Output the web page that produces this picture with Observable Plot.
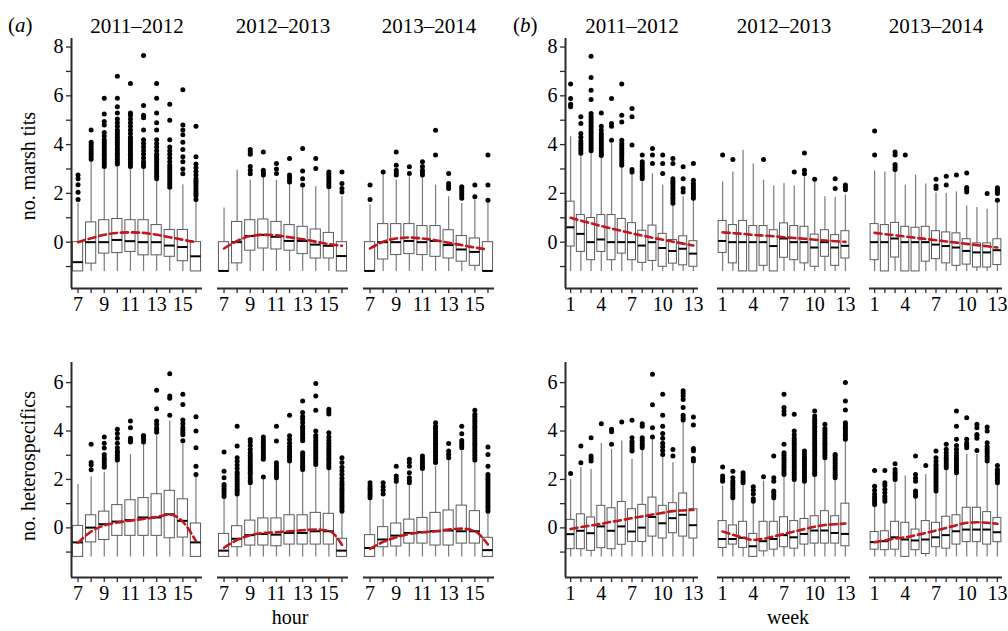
<!DOCTYPE html>
<html><head><meta charset="utf-8">
<script src="https://cdn.jsdelivr.net/npm/d3@7"></script>
<script src="https://cdn.jsdelivr.net/npm/@observablehq/plot@0.6"></script>
<style>
body{margin:0;background:#fff;}
#chart{position:relative;width:1008px;height:631px;font-family:"Liberation Serif","Times New Roman",serif;color:#000;overflow:hidden;}
.grp{position:absolute;}
.lab{position:absolute;font-size:20px;line-height:1;white-space:nowrap;}
.ylab{transform:translate(-50%,-50%) rotate(-90deg);}
.xlab{transform:translateX(-50%);}
.tag{font-size:21px;}
</style></head><body><div id="chart"></div>
<script>
// ---------- categories & ticks ----------
const SEASONS = ["2011–2012", "2012–2013", "2013–2014"];
const HOURS = [7, 8, 9, 10, 11, 12, 13, 14, 15, 16];
const WEEKS = [1, 2, 3, 4, 5, 6, 7, 8, 9, 10, 11, 12, 13];
const HOUR_LABELS = [7, 9, 11, 13, 15];
const WEEK_LABELS = [1, 4, 7, 10, 13];
const MT_TICKS = [-1, 0, 1, 2, 3, 4, 5, 6, 7, 8];
const MT_LABELS = [0, 2, 4, 6, 8];
const HT_TICKS = [-1, 0, 1, 2, 3, 4, 5, 6];
const HT_LABELS = [0, 2, 4, 6];

// ---------- box stats: [lower whisker, q1, median, q3, upper whisker] ----------
// no. marsh tits by hour
const mtHour1112Box = [[-1.2,-1.2,-0.82,0,1.6],[-1.2,-0.88,0,0.81,3.35],[-1.2,-0.47,0,0.9,3.0],[-1.2,-0.45,0.09,0.95,3.1],[-1.2,-0.4,0.04,0.9,3.0],[-1.2,-0.54,0,0.9,3.05],[-1.2,-0.54,0,0.7,2.5],[-1.2,-0.6,-0.14,0.5,2.15],[-1.2,-0.78,-0.2,0.5,2.35],[-1.2,-1.2,-0.58,0,1.7]];
const mtHour1112Out = [[1.75,2.05,2.35,2.6,2.75],[3.4,3.5,3.6,3.7,3.8,3.9,4.0,4.1,4.6],[3.1,3.2,3.3,3.4,3.5,3.6,3.7,3.8,3.9,4.0,4.1,4.2,4.35,4.5,4.8,4.95,5.25,5.9],[3.2,3.3,3.4,3.5,3.6,3.7,3.8,3.9,4.0,4.1,4.2,4.3,4.4,4.5,4.6,4.75,4.9,5.05,5.3,5.55,5.9,6.8],[3.1,3.2,3.3,3.4,3.5,3.6,3.7,3.8,3.9,4.0,4.1,4.2,4.3,4.45,4.6,4.75,4.9,5.05,5.2,5.3,6.5],[3.1,3.2,3.3,3.45,3.6,3.75,3.9,4.05,4.2,4.6,5.1,5.2,5.6,7.65],[2.6,2.7,2.8,2.9,3.0,3.1,3.2,3.3,3.4,3.5,3.6,3.75,3.9,4.05,4.2,4.6,4.9,5.3,5.9,6.5],[2.25,2.35,2.45,2.55,2.65,2.75,2.85,2.95,3.05,3.15,3.3,3.45,3.6,3.75,3.9,4.2,5.0,5.65],[2.8,3.0,3.3,3.5,3.8,4.1,4.4,4.6,4.8,6.25],[1.75,1.9,2.0,2.1,2.2,2.3,2.4,2.5,2.6,2.75,2.9,3.05,3.2,3.5,4.75]];
const mtHour1112Fit = [0.0,0.16,0.3,0.38,0.4,0.38,0.3,0.2,0.1,0.0];

const mtHour1213Box = [[-1.2,-1.2,-1.18,0,1.4],[-1.2,-0.87,0,0.83,2.95],[-1.2,-0.35,0.25,0.9,2.55],[-1.2,-0.26,0.3,0.93,2.68],[-1.2,-0.3,0.22,0.83,2.54],[-1.2,-0.35,0.05,0.7,2.4],[-1.2,-0.49,0.05,0.63,2.27],[-1.2,-0.67,-0.1,0.52,2.27],[-1.2,-0.67,-0.15,0.38,2.2],[-1.2,-1.2,-0.57,0,1.86]];
const mtHour1213Out = [[],[],[2.8,2.95,3.1,3.6,3.7,3.8],[2.75,2.85,2.95,3.7],[2.81,3.0,3.22],[2.47,2.55,2.65,2.75,3.43],[2.34,2.6,2.92,3.84],[3.02,3.43],[2.27,2.37,2.47,2.57,2.67,2.78,2.88],[2.06,2.2,2.4,2.88]];
const mtHour1213Fit = [-0.26,0.05,0.25,0.3,0.28,0.2,0.12,0.02,-0.08,-0.15];

const mtHour1314Box = [[-1.2,-1.2,-1.18,0,1.52],[-1.2,-0.71,0,0.74,2.8],[-1.2,-0.53,0,0.74,2.55],[-1.2,-0.49,0.05,0.74,2.68],[-1.2,-0.53,0,0.66,2.68],[-1.2,-0.6,0.05,0.66,2.34],[-1.2,-0.67,-0.12,0.49,1.86],[-1.2,-0.8,-0.3,0.25,1.6],[-1.2,-0.97,-0.4,0.15,1.72],[-1.2,-1.2,-1.18,0,1.58]];
const mtHour1314Out = [[1.75,2.34],[2.88],[2.75,2.85,2.95,3.15,3.7],[2.81,3.09],[2.75,2.85,2.95,3.1,3.3],[3.57,4.59],[2.2,2.3,2.4,2.81],[1.8,1.9,2.0,2.1,2.2,2.27],[1.86,2.34],[1.72,2.34,3.57]];
const mtHour1314Fit = [-0.26,0.02,0.15,0.19,0.15,0.08,-0.03,-0.12,-0.22,-0.3];

// no. marsh tits by week
const mtWeek1112Box = [[-1.2,-0.18,0.61,1.66,4.32],[-1.2,-0.4,0.34,1.11,3.6],[-1.2,-0.74,0,0.99,3.7],[-1.2,-0.4,0.11,1.11,3.5],[-1.2,-0.74,0,1.11,4.04],[-1.2,-0.47,0,0.95,3.09],[-1.2,-0.74,0,0.78,2.81],[-1.2,-0.85,-0.14,0.47,2.47],[-1.2,-0.77,0,0.68,2.8],[-1.2,-1.01,-0.24,0.34,2.34],[-1.2,-0.88,-0.36,0.09,1.52],[-1.2,-0.95,-0.27,0.24,1.86],[-1.2,-1.01,-0.47,0.04,1.72]];
const mtWeek1112Out = [[5.55,5.65,5.89,6.48],[3.65,3.75,3.85,3.95,4.05,4.15,4.3,4.45,4.86,5.14],[3.75,3.85,3.95,4.05,4.15,4.25,4.35,4.45,4.55,4.65,4.75,4.85,4.95,5.05,5.15,5.27,5.85,6.23,6.75,7.62],[3.55,3.65,3.75,3.85,3.95,4.05,4.15,4.25,4.35,4.45,4.6,4.75,5.3],[4.18,4.75,4.86,5.89],[3.15,3.25,3.35,3.45,3.55,3.65,3.75,3.85,3.95,4.05,4.18,4.93,5.2,6.48],[2.88,2.98,3.98,5.14,5.48],[2.6,2.7,2.8,2.9,3.0,3.1,3.2,3.3,3.57],[3.22,3.57,3.84],[2.81,3.22,3.57],[1.6,1.7,1.8,1.9,2.0,2.1,2.2,2.3,2.4,2.5,2.6,3.22,3.43],[2.06,2.2,2.6,3.09],[1.8,1.9,2.0,2.1,2.2,2.3,2.4,2.54,3.22]];
const mtWeek1112Fit = [1.0,0.88,0.77,0.66,0.56,0.46,0.36,0.27,0.18,0.1,0.02,-0.06,-0.14];

const mtWeek1213Box = [[-1.2,-0.44,0.05,0.87,2.47],[-1.2,-0.87,0,0.7,2.88],[-1.2,-1.2,0,0.87,3.77],[-1.2,-1.2,0,0.66,3.2],[-1.2,-0.97,0,0.66,2.54],[-1.2,-1.2,-0.16,0.49,2.3],[-1.2,-0.64,0.15,0.77,2.4],[-1.2,-0.74,0,0.66,2.3],[-1.2,-0.87,0,0.63,2.68],[-1.2,-1.01,-0.22,0.31,2.47],[-1.2,-0.6,0,0.49,1.86],[-1.2,-0.97,-0.22,0.29,1.83],[-1.2,-0.67,-0.15,0.45,1.93]];
const mtWeek1213Out = [[3.57],[3.39],[],[],[3.39],[],[],[2.88],[2.8,2.95,3.66],[2.58],[],[2.2,2.6],[2.15,2.25,2.34]];
const mtWeek1213Fit = [0.4,0.37,0.34,0.3,0.27,0.24,0.2,0.17,0.14,0.1,0.07,0.04,0.01];

const mtWeek1314Box = [[-1.2,-0.74,0,0.74,2.92],[-1.2,-1.2,0,0.7,2.88],[-1.2,-0.63,0.15,0.79,2.9],[-1.2,-1.2,0,0.63,2.34],[-1.2,-1.2,0,0.59,2.75],[-1.2,-0.8,0,0.63,2.38],[-1.2,-0.7,-0.1,0.45,2.02],[-1.2,-0.87,-0.16,0.4,2.0],[-1.2,-0.97,-0.22,0.36,2.06],[-1.2,-0.92,-0.36,0.12,1.48],[-1.2,-1.04,-0.42,-0.05,1.42],[-1.2,-1.04,-0.42,-0.05,1.35],[-1.2,-0.94,-0.33,0.12,1.58]];
const mtWeek1314Out = [[3.57,4.56],[],[2.98,3.08,3.18,3.57,3.7],[3.57],[],[],[2.2,2.3,2.58],[2.34,2.7],[2.75],[2.06,2.15,2.24,2.84],[],[2.0],[1.72,2.0,2.08,2.16,2.23]];
const mtWeek1314Fit = [0.38,0.33,0.28,0.23,0.18,0.13,0.08,0.03,-0.02,-0.07,-0.12,-0.17,-0.22];

// no. heterospecifics by hour
const htHour1112Box = [[-1.2,-1.2,-0.6,0.08,1.79],[-1.2,-0.6,0.01,0.52,2.1],[-1.2,-0.5,0.15,0.67,2.3],[-1.2,-0.33,0.26,0.94,2.7],[-1.2,-0.33,0.32,1.14,3.03],[-1.2,-0.33,0.43,1.23,3.45],[-1.2,-0.33,0.43,1.39,3.8],[-1.2,-0.43,0.56,1.53,4.41],[-1.2,-0.4,0.29,1.18,3.52],[-1.2,-1.2,-0.6,0.18,2.1]];
const htHour1112Out = [[],[2.4,2.6,2.7,3.45],[2.5,2.6,2.7,2.8,2.9,3.03,3.3,3.5,3.75],[2.8,2.9,3.0,3.1,3.17,3.31,3.5,3.7,3.9,4.07],[3.55,3.62,3.7,4.14,4.41],[3.55,3.65,3.75,3.82],[3.95,4.05,4.14,4.28,4.41,4.92,5.68],[4.65,5.35,5.45,6.37],[3.6,3.85,3.95,4.05,4.15,4.3,4.45,5.1,5.52],[2.2,2.55,3.31,4.0,4.59]];
const htHour1112Fit = [-0.62,-0.15,0.1,0.22,0.3,0.37,0.45,0.55,0.25,-0.55];

const htHour1213Box = [[-1.2,-1.2,-0.94,-0.25,1.17],[-1.2,-0.8,-0.45,0.07,1.31],[-1.2,-0.73,-0.3,0.3,1.79],[-1.2,-0.73,-0.25,0.39,2.0],[-1.2,-0.76,-0.28,0.39,2.0],[-1.2,-0.69,-0.21,0.52,2.69],[-1.2,-0.69,-0.21,0.52,2.34],[-1.2,-0.69,-0.14,0.62,2.48],[-1.2,-0.69,-0.14,0.58,2.41],[-1.2,-1.2,-0.94,-0.45,0.62]];
const htHour1213Out = [[1.3,1.4,1.5,1.6,1.7,1.79,2.07,2.34,3.13],[1.4,1.5,1.6,1.7,1.8,1.9,2.0,2.1,2.2,2.3,2.45,2.6,2.75,2.9,3.38,4.2],[1.86,1.96,2.07,2.2,2.3,2.4,2.5,2.6,2.7,2.8,2.9,3.0,3.1,3.25,3.4,3.55,3.65],[2.1,2.83,2.93,3.03,3.13,3.23,3.33,3.43,3.53,3.63,3.75],[2.07,2.17,2.27,2.37,2.47,2.57,2.69,3.59,4.2],[2.76,2.86,2.96,3.06,3.16,3.26,3.36,3.5,3.65,3.8,4.65],[2.41,2.5,2.6,2.7,2.8,2.9,3.0,3.1,3.6,3.7,3.8,3.9,4.0,4.1,4.2,4.35,4.5,4.6,4.76,5.24],[2.62,2.72,2.82,2.92,3.02,3.12,3.22,3.32,3.42,3.52,3.62,3.72,3.82,4.0,4.86,5.45,5.96],[2.48,2.58,2.68,2.78,2.88,2.98,3.08,3.18,3.28,3.38,3.5,3.62,3.75,3.93,4.7,4.8,4.9],[0.69,0.79,0.89,0.99,1.09,1.19,1.3,1.4,1.5,1.6,1.7,1.8,1.9,2.05,2.2,2.35,2.5,2.7,2.9]];
const htHour1213Fit = [-0.82,-0.5,-0.3,-0.21,-0.18,-0.14,-0.1,-0.07,-0.12,-0.7];

const htHour1314Box = [[-1.2,-1.2,-0.83,-0.3,1.17],[-1.2,-0.8,-0.48,0.03,1.17],[-1.2,-0.77,-0.32,0.18,1.86],[-1.2,-0.65,-0.21,0.34,1.8],[-1.2,-0.65,-0.18,0.41,2.34],[-1.2,-0.73,-0.14,0.62,2.55],[-1.2,-0.73,-0.11,0.72,2.83],[-1.2,-0.65,-0.14,0.92,3.17],[-1.2,-0.65,-0.14,0.69,2.7],[-1.2,-1.2,-0.92,-0.41,0.62]];
const htHour1314Out = [[1.24,1.34,1.44,1.54,1.64,1.74,1.86],[1.4,1.55,1.7,1.86],[1.93,2.03,2.14,2.55],[1.86,1.96,2.07,2.28,2.55,2.7,2.83],[2.45,2.55,2.65,2.75,2.85,2.97],[2.7,2.8,2.9,3.0,3.1,3.2,3.3,3.4,3.5,3.6,3.7,3.8,3.9,4.0,4.1,4.2,4.34],[2.9,3.03,3.17,3.48],[3.31,3.41,3.51,3.61,3.89,4.2],[2.8,2.9,3.0,3.1,3.2,3.3,3.4,3.5,3.6,3.7,3.8,3.9,4.0,4.1,4.2,4.3,4.4,4.5,4.6,4.69,4.86],[0.69,0.79,0.89,0.99,1.09,1.19,1.29,1.39,1.49,1.59,1.69,1.79,1.89,2.0,2.1,2.2,2.55,3.03,3.34]];
const htHour1314Fit = [-0.87,-0.58,-0.39,-0.25,-0.18,-0.14,-0.07,-0.03,-0.14,-0.69];

// no. heterospecifics by week
const htWeek1112Box = [[-1.2,-0.88,-0.26,0.33,2.0],[-1.2,-0.88,-0.12,0.56,2.48],[-1.2,-0.95,-0.22,0.43,2.41],[-1.2,-0.84,0.06,0.91,3.48],[-1.2,-0.88,-0.12,0.81,3.24],[-1.2,-0.7,0.06,1.07,3.59],[-1.2,-0.58,-0.15,0.77,2.83],[-1.2,-0.58,0.01,0.95,3.24],[-1.2,-0.36,0.45,1.25,3.66],[-1.2,-0.44,0.19,0.91,2.97],[-1.2,-0.22,0.4,1.02,2.69],[-1.2,-0.36,0.54,1.42,4.35],[-1.2,-0.44,0.11,0.77,2.62]];
const htWeek1112Out = [[2.25],[2.69,3.38],[2.76,2.86,2.97,3.72],[4.3],[3.45,3.97,4.07],[4.37],[3.17,3.27,3.37,3.47,3.57,3.72,4.44],[3.31,3.41,3.51,3.62,3.72,4.2,4.3],[3.75,4.14,5.08,6.34],[3.03,3.2,3.35,3.5,3.7,3.9,4.2,4.65,5.52],[2.97,3.24],[4.45,4.55,4.65,4.97,5.3,5.45,5.56,5.66],[2.76,2.86,3.18,3.28,4.25,4.58]];
const htWeek1112Fit = [-0.05,0.03,0.1,0.17,0.25,0.32,0.4,0.47,0.55,0.62,0.69,0.72,0.74];

const htWeek1213Box = [[-1.2,-0.83,-0.46,0.28,1.72],[-1.2,-0.69,-0.46,0.1,1.17],[-1.2,-0.83,-0.41,0.25,1.79],[-1.2,-1.2,-0.76,-0.25,1.03],[-1.2,-0.97,-0.55,0.25,1.93],[-1.2,-0.9,-0.46,0.25,1.17],[-1.2,-0.8,-0.3,0.44,2.14],[-1.2,-0.86,-0.39,0.28,1.93],[-1.2,-0.69,-0.25,0.37,1.86],[-1.2,-0.65,-0.11,0.48,2.14],[-1.2,-0.65,-0.11,0.69,2.83],[-1.2,-0.65,-0.21,0.48,2.0],[-1.2,-0.76,-0.25,1.0,3.59]];
const htWeek1213Out = [[1.93,2.03,2.14,2.51],[1.24,1.34,1.44,1.54,1.64,1.74,1.84,1.94,2.07,2.34],[1.86,1.96,2.06,2.16,2.28],[1.1,1.2,1.4,1.55,1.7],[2.11],[1.24,1.34,1.45,1.52,1.93,2.07,2.97],[2.2,2.3,2.4,2.5,2.6,2.7,2.8,2.9,3.0,3.1,3.45,4.69,4.83,4.97,5.52],[2.0,2.1,2.2,2.3,2.4,2.5,2.6,2.7,2.8,2.9,3.0,3.1,3.2,3.3,3.4,3.5,3.6,3.7,3.85,4.0,4.69],[1.93,2.03,2.13,2.23,2.33,2.43,2.53,2.63,2.73,2.83,2.93,3.05,3.17],[2.2,2.3,2.4,2.5,2.6,2.7,2.8,2.9,3.0,3.1,3.2,3.3,3.4,3.5,3.6,3.7,3.8,3.9,4.0,4.1,4.2,4.3,4.4,4.5,4.62,4.83],[2.9,3.0,3.1,3.2,3.3,3.4,3.5,3.6,3.7,3.8,3.9,4.0,4.1,4.28],[2.07,2.17,2.27,2.37,2.47,2.57,2.67,2.77,2.87,2.97,3.03],[3.66,3.76,3.86,3.96,4.06,4.16,4.26,4.34,4.87,5.24,6.0]];
const htWeek1213Fit = [-0.15,-0.28,-0.4,-0.5,-0.45,-0.35,-0.25,-0.15,-0.05,0.05,0.12,0.15,0.18];

const htWeek1314Box = [[-1.2,-0.9,-0.59,-0.17,0.9],[-1.2,-0.92,-0.55,-0.14,1.03],[-1.2,-0.9,-0.39,0.25,1.86],[-1.2,-1.2,-0.48,0.21,2.14],[-1.2,-0.92,-0.52,-0.07,1.24],[-1.2,-1.08,-0.48,0.28,2.2],[-1.2,-0.8,-0.39,0.21,1.45],[-1.2,-0.86,-0.3,0.46,2.41],[-1.2,-0.69,-0.14,0.52,2.2],[-1.2,-0.59,-0.07,0.83,3.03],[-1.2,-0.59,-0.07,0.83,3.03],[-1.2,-0.69,-0.07,0.65,2.69],[-1.2,-0.59,-0.18,0.41,1.79]];
const htWeek1314Out = [[0.97,1.07,1.17,1.27,1.4,1.55,1.72,2.37],[1.1,1.2,1.3,1.45,1.6,1.75,1.86,2.37],[2.0,2.1,2.2,2.3,2.41,2.65],[],[1.31,1.41,1.52,1.93,2.05,2.2,2.97],[2.58],[1.52,1.62,1.72,1.82,1.92,2.02,2.12,2.22,2.32,2.42,2.52,2.62,2.75,2.9,3.17],[2.48,2.58,2.68,2.78,2.88,2.98,3.1,3.25,3.45],[2.28,2.38,2.48,2.58,2.68,2.78,2.88,2.98,3.1,3.25,3.4,3.66,4.2,4.83],[3.31,3.41,3.51,3.66,4.55],[3.2,3.7,3.8,3.86,4.14,4.28],[2.76,2.86,2.96,3.06,3.16,3.26,3.36,3.52,4.0,4.17],[1.86,1.96,2.06,2.16,2.26,2.36,2.41,2.58]];
const htWeek1314Fit = [-0.59,-0.52,-0.44,-0.39,-0.3,-0.21,-0.11,0.0,0.11,0.21,0.23,0.21,0.17];

// ---------- build tables ----------
function boxRows(xs, season, boxes) {
  return boxes.map((b, i) => ({season, x: xs[i], lo: b[0], q1: b[1], med: b[2], q3: b[3], hi: b[4]}));
}
function outRows(xs, season, outs) {
  return outs.flatMap((o, i) => o.map(v => ({season, x: xs[i], v})));
}
function fitRows(xs, season, fit) {
  return fit.map((v, i) => ({season, x: xs[i], v}));
}

const RED = "#c2161c";
const AXIS = "#2b2b2b";

function group(cfg) {
  const {xs, panels, xDomain, xLabels, yDomain, yTicks, yLabels, titles, pos} = cfg;
  const boxes = panels.flatMap((p, k) => boxRows(xs, SEASONS[k], p[0]));
  const outs = panels.flatMap((p, k) => outRows(xs, SEASONS[k], p[1]));
  const fits = panels.flatMap((p, k) => fitRows(xs, SEASONS[k], p[2]));
  const half = 0.39;
  const marks = [
    Plot.ruleX(boxes, {fx: "season", x: "x", y1: "lo", y2: "hi", stroke: "#7a7a7a", strokeWidth: 1.2}),
    Plot.rect(boxes, {fx: "season", x1: d => d.x - half, x2: d => d.x + half, y1: "q1", y2: "q3", fill: "#fff", stroke: "#5a5a5a", strokeWidth: 1}),
    Plot.ruleY(boxes, {fx: "season", y: "med", x1: d => d.x - half, x2: d => d.x + half, stroke: "#000", strokeWidth: 2}),
    Plot.dot(outs, {fx: "season", x: "x", y: "v", r: 2.5, fill: "#000", stroke: "none"}),
    Plot.line(fits, {fx: "season", x: "x", y: "v", z: "season", stroke: RED, strokeWidth: 2.6, strokeDasharray: "7,4", curve: "monotone-x"}),
    Plot.ruleY([yDomain[0]], {stroke: AXIS, strokeWidth: 2}),
    Plot.ruleX([SEASONS[0]], {fx: d => d, x: () => xDomain[0], y1: () => yDomain[0], y2: () => yDomain[1], stroke: AXIS, strokeWidth: 2}),
    Plot.axisY({ticks: yTicks, tickFormat: d => yLabels.includes(d) ? String(d) : "", label: null, tickSize: 5, tickPadding: 3, stroke: AXIS, strokeWidth: 1.3, fill: "#000", fontSize: 20}),
    Plot.axisX({ticks: xs, tickFormat: d => xLabels.includes(d) ? String(d) : "", label: null, tickSize: 5, tickPadding: 3, stroke: AXIS, strokeWidth: 1.3, fill: "#000", fontSize: 20})
  ];
  if (titles) {
    marks.push(Plot.text(SEASONS, {fx: d => d, text: d => d, frameAnchor: "top", dy: -12, lineAnchor: "middle", fontSize: 21, fill: "#000"}));
  }
  const svg = Plot.plot({
    width: pos.width, height: pos.height,
    marginLeft: pos.ml, marginRight: pos.mr, marginTop: pos.mt, marginBottom: pos.mb,
    style: {fontFamily: "'Liberation Serif', 'Times New Roman', serif", fontSize: "20px", color: "#000", background: "transparent", overflow: "visible"},
    fx: {domain: SEASONS, paddingInner: pos.pad, paddingOuter: 0, axis: null, label: null},
    x: {domain: xDomain, label: null},
    y: {domain: yDomain, label: null},
    marks
  });
  const wrap = document.createElement("div");
  wrap.className = "grp";
  wrap.style.left = pos.left + "px";
  wrap.style.top = pos.top + "px";
  wrap.appendChild(svg);
  document.getElementById("chart").appendChild(wrap);
}

const HOUR_DOMAIN = [6.5, 16.5];
const WEEK_DOMAIN = [0.5, 13.5];
const MT_DOMAIN = [-1.9, 8.35];
const HT_DOMAIN = [-2.05, 6.83];

group({xs: HOURS, xDomain: HOUR_DOMAIN, xLabels: HOUR_LABELS, yDomain: MT_DOMAIN, yTicks: MT_TICKS, yLabels: MT_LABELS, titles: true,
  panels: [[mtHour1112Box, mtHour1112Out, mtHour1112Fit], [mtHour1213Box, mtHour1213Out, mtHour1213Fit], [mtHour1314Box, mtHour1314Out, mtHour1314Fit]],
  pos: {left: 0, top: 0, width: 504, height: 320, ml: 70, mr: 8, mt: 38, mb: 32, pad: 0.102}});
group({xs: WEEKS, xDomain: WEEK_DOMAIN, xLabels: WEEK_LABELS, yDomain: MT_DOMAIN, yTicks: MT_TICKS, yLabels: MT_LABELS, titles: true,
  panels: [[mtWeek1112Box, mtWeek1112Out, mtWeek1112Fit], [mtWeek1213Box, mtWeek1213Out, mtWeek1213Fit], [mtWeek1314Box, mtWeek1314Out, mtWeek1314Fit]],
  pos: {left: 504, top: 0, width: 504, height: 320, ml: 61, mr: 6, mt: 38, mb: 32, pad: 0.125}});
group({xs: HOURS, xDomain: HOUR_DOMAIN, xLabels: HOUR_LABELS, yDomain: HT_DOMAIN, yTicks: HT_TICKS, yLabels: HT_LABELS, titles: false,
  panels: [[htHour1112Box, htHour1112Out, htHour1112Fit], [htHour1213Box, htHour1213Out, htHour1213Fit], [htHour1314Box, htHour1314Out, htHour1314Fit]],
  pos: {left: 0, top: 320, width: 504, height: 311, ml: 70, mr: 8, mt: 42, mb: 54, pad: 0.102}});
group({xs: WEEKS, xDomain: WEEK_DOMAIN, xLabels: WEEK_LABELS, yDomain: HT_DOMAIN, yTicks: HT_TICKS, yLabels: HT_LABELS, titles: false,
  panels: [[htWeek1112Box, htWeek1112Out, htWeek1112Fit], [htWeek1213Box, htWeek1213Out, htWeek1213Fit], [htWeek1314Box, htWeek1314Out, htWeek1314Fit]],
  pos: {left: 504, top: 320, width: 504, height: 311, ml: 61, mr: 6, mt: 42, mb: 54, pad: 0.125}});

// ---------- text labels ----------
function label(html, cls, left, top) {
  const d = document.createElement("div");
  d.className = "lab " + cls;
  d.style.left = left + "px";
  d.style.top = top + "px";
  d.innerHTML = html;
  document.getElementById("chart").appendChild(d);
}
label("(<i>a</i>)", "tag", 8, 15);
label("(<i>b</i>)", "tag", 513, 15);
label("no. marsh tits", "ylab", 28, 166);
label("no. heterospecifics", "ylab", 28, 466);
label("hour", "xlab", 290, 607);
label("week", "xlab", 788, 607);
</script>
</body></html>
